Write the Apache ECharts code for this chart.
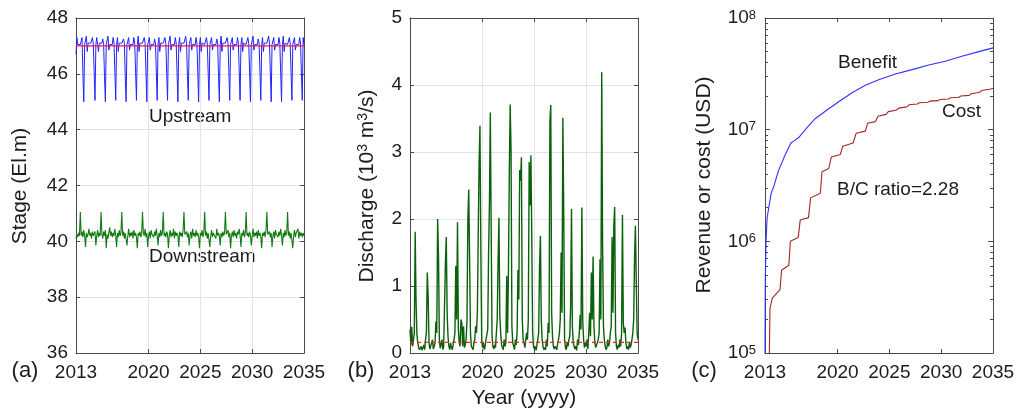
<!DOCTYPE html>
<html><head><meta charset="utf-8">
<script src="https://cdn.jsdelivr.net/npm/echarts@6/dist/echarts.min.js"></script>
<style>html,body{margin:0;padding:0;background:#fff}#c{width:1018px;height:412px}</style>
</head><body><div id="c"></div>
<script>
// ---------- data ----------
const startYear = 2013;
const stepsPerYear = 12; // monthly samples
const yearTicks = [2013, 2020, 2025, 2030, 2035];
const decadeTicks = [5, 6, 7, 8];

// (a) upstream stage, monthly, 2013..2034 + final 2035
const upstream = [
46.7,47.3,47.05,47.1,47.05,47.05,47.1,47.3,46.0,45.0,47.05,47.1,
47.35,46.8,47.1,47.05,47.05,47.1,47.05,47.3,47.1,47.05,45.05,47.05,
47.3,47.05,46.8,47.1,47.05,47.05,47.1,47.25,47.05,45.9,45.0,47.05,
47.1,47.35,46.85,47.05,47.05,47.1,47.05,47.3,47.1,47.05,45.05,47.05,
47.3,46.8,47.1,47.05,47.05,47.1,47.05,47.25,47.1,45.95,45.0,47.05,
47.1,47.3,46.85,47.05,47.1,47.05,47.05,47.3,47.1,47.05,45.05,47.05,
47.35,46.8,47.1,47.05,47.05,47.1,47.05,47.3,47.1,47.05,45.0,47.05,
47.1,47.3,46.85,47.05,47.05,47.1,47.05,47.25,47.1,47.05,45.05,47.05,
47.3,46.8,47.1,47.05,47.05,47.1,47.05,47.3,47.1,47.05,45.05,47.05,
47.1,47.35,46.85,47.05,47.1,47.05,47.05,47.3,47.1,47.05,45.0,47.05,
47.3,46.8,47.1,47.05,47.05,47.1,47.05,47.35,47.1,45.95,45.05,47.05,
47.1,47.3,46.85,47.05,47.05,47.1,47.05,47.3,47.1,47.05,45.0,47.05,
47.3,46.8,47.1,47.05,47.1,47.05,47.05,47.3,47.1,47.05,45.05,47.05,
47.1,47.3,46.85,47.05,47.05,47.1,47.05,47.25,47.1,45.95,45.0,47.05,
47.35,46.8,47.1,47.05,47.05,47.1,47.05,47.3,47.1,47.05,45.05,47.05,
47.1,47.3,46.85,47.05,47.05,47.1,47.05,47.3,47.1,47.05,45.05,47.05,
47.3,46.8,47.1,47.05,47.1,47.05,47.05,47.3,47.1,47.05,45.0,47.05,
47.1,47.35,46.85,47.05,47.05,47.1,47.05,47.25,47.1,47.05,45.05,47.05,
47.3,46.8,47.1,47.05,47.05,47.1,47.05,47.35,47.1,47.05,45.0,47.05,
47.1,47.3,46.85,47.05,47.05,47.1,47.05,47.3,47.1,47.05,45.0,47.05,
47.35,46.8,47.1,47.05,47.1,47.05,47.05,47.3,47.1,47.05,45.05,47.05,
47.1,47.3,46.85,47.05,47.05,47.1,47.05,47.3,47.1,46.0,45.05,47.3,
47.05];
const upstreamTarget = 47.0;

// (a) downstream stage, monthly
const downstream = [
40.1,40.25,40.15,40.3,40.2,41.05,40.2,40.35,40.15,40.4,40.2,39.8,
40.3,40.15,40.25,40.45,40.2,40.3,40.1,40.35,40.2,40.15,40.35,39.85,
40.2,40.4,40.15,40.3,40.2,41.05,40.25,40.1,40.35,40.2,40.4,39.75,
40.25,40.1,40.3,40.5,40.2,40.35,40.15,40.3,40.2,40.45,40.2,39.8,
40.3,40.15,40.4,40.2,40.3,41.05,40.2,40.35,40.1,40.3,40.25,39.85,
40.2,40.45,40.15,40.3,40.2,40.35,40.1,40.4,40.2,40.3,40.15,39.75,
40.3,40.2,40.35,40.15,40.25,41.05,40.3,40.2,40.45,40.15,40.3,39.8,
40.2,40.35,40.1,40.4,40.25,40.3,40.15,40.35,40.2,40.45,40.2,39.85,
40.3,40.15,40.4,40.2,40.3,41.05,40.2,40.3,40.15,40.35,40.25,39.75,
40.2,40.4,40.15,40.3,40.2,40.45,40.1,40.35,40.2,40.3,40.2,39.8,
40.35,40.2,40.3,40.15,40.4,41.05,40.25,40.2,40.35,40.15,40.3,39.85,
40.2,40.35,40.1,40.45,40.2,40.3,40.15,40.4,40.2,40.3,40.15,39.75,
40.3,40.2,40.4,40.15,40.3,41.05,40.2,40.35,40.1,40.3,40.25,39.8,
40.2,40.4,40.15,40.3,40.25,40.35,40.1,40.45,40.2,40.3,40.2,39.85,
40.3,40.15,40.35,40.2,40.3,41.05,40.25,40.2,40.4,40.15,40.3,39.75,
40.2,40.35,40.15,40.4,40.2,40.3,40.1,40.35,40.25,40.45,40.2,39.8,
40.3,40.2,40.4,40.15,40.3,41.05,40.2,40.3,40.15,40.35,40.2,39.85,
40.2,40.45,40.15,40.3,40.2,40.35,40.1,40.4,40.2,40.3,40.15,39.75,
40.3,40.2,40.35,40.15,40.4,41.05,40.25,40.2,40.35,40.15,40.3,39.8,
40.2,40.35,40.1,40.4,40.25,40.3,40.15,40.35,40.2,40.45,40.2,39.85,
40.3,40.15,40.4,40.2,40.3,41.05,40.2,40.35,40.1,40.3,40.25,39.75,
40.2,40.4,40.15,40.3,40.25,40.45,40.1,40.35,40.2,40.3,40.15,40.3,
40.2];

// (b) discharge (10^3 m3/s), monthly
const discharge = [
0.35,0.12,0.39,0.1,0.2,0.3,1.81,0.77,0.28,0.15,0.08,0.05,
0.05,0.1,0.04,0.08,0.12,0.05,0.2,0.3,1.2,0.85,0.15,0.06,
0.08,0.04,0.2,0.06,0.1,0.15,0.47,0.3,2.0,1.46,0.2,0.07,
0.06,0.2,0.05,0.1,0.12,1.34,1.73,0.6,0.25,0.1,0.05,0.15,
0.08,0.05,0.12,0.2,0.3,1.3,0.5,1.95,0.35,0.15,0.1,0.5,
0.45,0.1,0.4,0.08,0.12,0.2,0.5,2.0,2.44,1.4,0.3,0.1,
0.1,0.05,0.15,0.2,0.4,0.3,0.6,1.75,2.83,3.39,1.58,0.2,
0.08,0.15,0.05,0.1,0.2,0.2,0.35,1.5,2.25,3.59,1.84,0.25,
0.1,0.06,0.12,0.08,0.3,0.5,1.4,2.02,0.55,0.3,0.12,0.08,
0.05,0.2,0.1,0.15,1.15,0.3,1.25,2.68,3.71,3.03,0.4,0.15,
0.1,0.05,0.2,0.12,0.3,1.24,0.8,2.73,2.57,2.92,0.5,0.2,
0.15,0.08,0.1,0.3,0.2,0.5,2.85,2.2,2.95,1.75,0.3,0.1,
0.06,0.1,0.04,0.12,0.2,0.3,1.3,1.75,0.5,0.2,0.1,0.05,
0.08,0.05,0.2,0.1,0.45,0.3,3.45,3.7,0.6,0.25,0.1,0.06,
0.1,0.12,0.05,0.15,0.2,0.3,0.5,1.5,0.6,3.51,2.1,0.2,
0.08,0.05,0.15,0.1,0.2,0.25,0.7,2.15,0.4,0.15,0.1,0.06,
0.1,0.04,0.2,0.12,0.3,0.57,0.35,2.17,0.5,0.2,0.08,0.15,
0.1,0.2,0.06,0.3,0.6,0.25,1.2,0.5,1.44,0.4,0.15,0.08,
0.06,0.1,0.2,0.3,1.4,0.5,4.19,1.6,0.4,0.2,0.1,0.05,
0.08,0.2,0.1,0.15,0.3,0.4,1.73,0.6,1.9,2.18,0.3,0.1,
0.05,0.12,0.08,0.2,0.1,0.3,2.06,0.45,0.3,0.38,0.15,0.06,
0.1,0.05,0.15,0.08,0.12,0.2,0.3,0.5,1.4,1.9,1.07,0.3,
0.2];
const dischargeThreshold = 0.16;

// (c) cumulative benefit and cost (USD)
const benefitYears  = [2013.0,2013.03,2013.1,2013.2,2013.36,2013.6,2013.85,2014.3,2014.96,2015.5,2015.77,2016.25,2016.89,2017.86,2018.98,2020.11,2021.4,2022.68,2023.97,2025.58,2027.19,2028.8,2030.4,2032.0,2033.63,2035.0];
const benefitValues = [1.0e5,4.6e5,1.0e6,1.6e6,2.0e6,2.7e6,3.1e6,4.3e6,6.0e6,7.6e6,7.9e6,8.5e6,1.0e7,1.26e7,1.5e7,1.78e7,2.14e7,2.5e7,2.8e7,3.15e7,3.45e7,3.8e7,4.1e7,4.55e7,5.0e7,5.4e7];
const costYears  = [2013.42,2013.48,2013.7,2014.45,2014.6,2015.3,2015.45,2016.2,2016.4,2017.2,2017.4,2018.34,2018.5,2019.15,2019.4,2020.27,2020.5,2021.5,2021.8,2022.68,2022.9,2023.65,2023.9,2024.68,2024.9,2025.7,2025.9,2026.7,2026.9,2027.7,2027.9,2028.7,2028.9,2029.7,2029.9,2030.7,2030.9,2031.7,2031.9,2032.7,2032.9,2033.7,2033.9,2034.7,2035.0];
const costValues = [1.0e5,2.5e5,3.1e5,3.7e5,5.5e5,6.1e5,1.0e6,1.08e6,1.55e6,1.63e6,2.45e6,2.7e6,4.2e6,4.5e6,5.7e6,6.0e6,7.1e6,7.6e6,9.3e6,9.7e6,1.14e7,1.18e7,1.32e7,1.37e7,1.45e7,1.5e7,1.56e7,1.6e7,1.67e7,1.7e7,1.74e7,1.76e7,1.8e7,1.82e7,1.86e7,1.88e7,1.93e7,1.95e7,2.0e7,2.03e7,2.1e7,2.16e7,2.24e7,2.3e7,2.35e7];

// ---------- chart ----------
const FONT = "'Liberation Sans', Arial, Helvetica, sans-serif";
const AXIS = '#4a4a4a', TXT = '#1c1c1c', GRIDC = '#e3e3e3';
const toSeries = arr => arr.map((v, i) => [startYear + i / stepsPerYear, v]);
const pair = (xs, ys) => xs.map((x, i) => [x, ys[i]]);
const minorExp = [];
[5, 6, 7].forEach(n => { for (let k = 2; k <= 9; k++) minorExp.push(n + Math.log10(k)); });

function xPair(gi, showGrid) {
  const common = { gridIndex: gi, type: 'value', min: 2013, max: 2035 };
  return [
    Object.assign({}, common, {
      position: 'bottom',
      axisLine: { show: true, onZero: false, lineStyle: { color: AXIS, width: 1 } },
      axisTick: { show: true, inside: true, length: 4, customValues: yearTicks, lineStyle: { color: AXIS } },
      axisLabel: { show: true, customValues: yearTicks, formatter: v => String(v), fontSize: 19, color: TXT, fontFamily: FONT, margin: 10 },
      splitLine: { show: showGrid, lineStyle: { color: GRIDC, width: 1 } }
    }),
    Object.assign({}, common, {
      position: 'top',
      axisLine: { show: true, onZero: false, lineStyle: { color: AXIS, width: 1 } },
      axisTick: { show: true, inside: true, length: 4, customValues: yearTicks, lineStyle: { color: AXIS } },
      axisLabel: { show: false },
      splitLine: { show: false }
    })
  ];
}
function yPair(gi, min, max, interval) {
  const common = { gridIndex: gi, type: 'value', min: min, max: max, interval: interval };
  return [
    Object.assign({}, common, {
      position: 'left',
      axisLine: { show: true, onZero: false, lineStyle: { color: AXIS, width: 1 } },
      axisTick: { show: true, inside: true, length: 4, lineStyle: { color: AXIS } },
      axisLabel: { show: true, fontSize: 19, color: TXT, fontFamily: FONT, margin: 8 },
      splitLine: { show: true, lineStyle: { color: GRIDC, width: 1 } }
    }),
    Object.assign({}, common, {
      position: 'right',
      axisLine: { show: true, onZero: false, lineStyle: { color: AXIS, width: 1 } },
      axisTick: { show: true, inside: true, length: 4, lineStyle: { color: AXIS } },
      axisLabel: { show: false },
      splitLine: { show: false }
    })
  ];
}

const xAxes = [].concat(xPair(0, true), xPair(1, true), xPair(2, false));
const yAxes = [].concat(
  yPair(0, 36, 48, 2),
  yPair(1, 0, 5, 1),
  [
    { gridIndex: 2, type: 'log', logBase: 10, min: 1e5, max: 1e8, position: 'left',
      axisLine: { show: true, onZero: false, lineStyle: { color: AXIS, width: 1 } },
      axisTick: { show: true, inside: true, length: 5, lineStyle: { color: AXIS } },
      axisLabel: { show: true, margin: 9, color: TXT, fontFamily: FONT,
        formatter: v => '{b|10}{s|' + Math.round(Math.log10(v)) + '}',
        rich: { b: { fontSize: 19, color: TXT, fontFamily: FONT }, s: { fontSize: 13, color: TXT, fontFamily: FONT, verticalAlign: 'top' } } },
      splitLine: { show: false } },
    { gridIndex: 2, type: 'value', min: 5, max: 8, position: 'right',
      axisLine: { show: true, onZero: false, lineStyle: { color: AXIS, width: 1 } },
      axisTick: { show: true, inside: true, length: 5, customValues: decadeTicks, lineStyle: { color: AXIS } },
      axisLabel: { show: false }, splitLine: { show: false } },
    { gridIndex: 2, type: 'value', min: 5, max: 8, position: 'right',
      axisLine: { show: false, onZero: false },
      axisTick: { show: true, inside: true, length: 3, customValues: minorExp, lineStyle: { color: AXIS } },
      axisLabel: { show: false }, splitLine: { show: false } },
    { gridIndex: 2, type: 'value', min: 5, max: 8, position: 'left',
      axisLine: { show: false, onZero: false },
      axisTick: { show: true, inside: true, length: 3, customValues: minorExp, lineStyle: { color: AXIS } },
      axisLabel: { show: false }, splitLine: { show: false } }
  ]
);

const lineBase = { type: 'line', showSymbol: false, symbol: 'none', animation: false, clip: true, silent: true };

const textEl = (x, y, text, size, align, rot) => ({
  type: 'text', x: x, y: y, rotation: rot || 0, silent: true,
  style: { text: text, fontSize: size, fontFamily: FONT, fill: TXT,
    textAlign: align || 'left', textVerticalAlign: 'middle', align: align || 'left', verticalAlign: 'middle' }
});

const option = {
  backgroundColor: '#ffffff',
  animation: false,
  grid: [
    { left: 76, top: 18, width: 228, height: 335, containLabel: false },
    { left: 410, top: 18, width: 228, height: 335, containLabel: false },
    { left: 765, top: 18, width: 228, height: 335, containLabel: false }
  ],
  xAxis: xAxes,
  yAxis: yAxes,
  series: [
    Object.assign({}, lineBase, { name: 'Upstream', xAxisIndex: 0, yAxisIndex: 0, data: toSeries(upstream),
      lineStyle: { color: '#2323ff', width: 1 }, z: 3 }),
    Object.assign({}, lineBase, { name: 'Upstream target', xAxisIndex: 0, yAxisIndex: 0,
      data: [[2013, upstreamTarget], [2035, upstreamTarget]],
      lineStyle: { color: '#ee1846', width: 1.3 }, z: 4 }),
    Object.assign({}, lineBase, { name: 'Downstream', xAxisIndex: 0, yAxisIndex: 0, data: toSeries(downstream),
      lineStyle: { color: '#137a13', width: 1.1 }, z: 3 }),
    Object.assign({}, lineBase, { name: 'Discharge', xAxisIndex: 2, yAxisIndex: 2, data: toSeries(discharge),
      lineStyle: { color: '#0b610b', width: 1.4 }, z: 3 }),
    Object.assign({}, lineBase, { name: 'Threshold', xAxisIndex: 2, yAxisIndex: 2,
      data: [[2013, dischargeThreshold], [2035, dischargeThreshold]],
      lineStyle: { color: '#ff2222', width: 1.2, type: [4, 3] }, z: 4 }),
    Object.assign({}, lineBase, { name: 'Benefit', xAxisIndex: 4, yAxisIndex: 4, data: pair(benefitYears, benefitValues),
      lineStyle: { color: '#3030ff', width: 1.1 }, z: 3 }),
    Object.assign({}, lineBase, { name: 'Cost', xAxisIndex: 4, yAxisIndex: 4, data: pair(costYears, costValues),
      lineStyle: { color: '#a52424', width: 1.1 }, z: 3 })
  ],
  graphic: [
    textEl(20, 186, 'Stage (El.m)', 21, 'center', Math.PI / 2),
    {
      type: 'text', x: 367, y: 186, rotation: Math.PI / 2, silent: true,
      style: { text: '{n|Discharge (10}{s|3}{n| m}{s|3}{n|/s)}', fill: TXT, fontFamily: FONT, fontSize: 21,
        textAlign: 'center', textVerticalAlign: 'middle', align: 'center', verticalAlign: 'middle',
        rich: { n: { fontSize: 21, fontFamily: FONT, fill: TXT, color: TXT }, s: { fontSize: 14, fontFamily: FONT, fill: TXT, color: TXT, verticalAlign: 'top' } } }
    },
    textEl(704, 185, 'Revenue or cost (USD)', 21, 'center', Math.PI / 2),
    textEl(524, 398, 'Year (yyyy)', 21, 'center'),
    textEl(25, 371, '(a)', 22, 'center'),
    textEl(361, 371, '(b)', 22, 'center'),
    textEl(704, 371, '(c)', 22, 'center'),
    textEl(149, 117, 'Upstream', 19, 'left'),
    textEl(149, 257, 'Downstream', 19, 'left'),
    textEl(838, 63, 'Benefit', 19, 'left'),
    textEl(942, 112, 'Cost', 19, 'left'),
    textEl(837, 190, 'B/C ratio=2.28', 19, 'left')
  ]
};

const chart = echarts.init(document.getElementById('c'), null, { renderer: 'canvas' });
chart.setOption(option);
</script>
</body></html>
